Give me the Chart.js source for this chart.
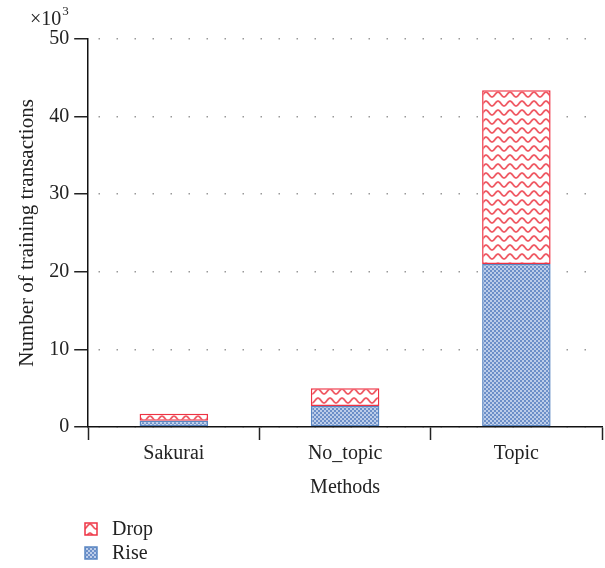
<!DOCTYPE html>
<html>
<head>
<meta charset="utf-8">
<script src="https://cdn.jsdelivr.net/npm/chart.js@4/dist/chart.umd.min.js"></script>
<style>
  html, body { margin: 0; padding: 0; background: #fff; }
  #wrap { width: 605px; height: 568px; }
</style>
</head>
<body>
<div id="wrap"><canvas id="c" width="605" height="568"></canvas></div>
<script>
// Training transactions per method, in thousands
const methods = ['Sakurai', 'No_topic', 'Topic'];
const riseValues = [0.8, 2.7, 21.0];
const dropValues = [0.9, 2.3, 22.4];
const yTicks = [0, 10, 20, 30, 40, 50];

const FONT = '"Liberation Serif", "DejaVu Serif", serif';
const FS = 20;

// Red wavy hatch on white
function wavePattern() {
  const t = document.createElement('canvas');
  t.width = 12; t.height = 9;
  const g = t.getContext('2d');
  g.fillStyle = '#ffffff';
  g.fillRect(0, 0, 12, 9);
  g.strokeStyle = 'rgba(236,60,72,0.85)';
  g.lineWidth = 1.8;
  g.beginPath();
  for (let x = -1; x <= 13; x += 0.5) {
    const y = 4.5 + 2.4 * Math.cos((x / 12) * Math.PI * 2);
    if (x === -1) g.moveTo(x, y); else g.lineTo(x, y);
  }
  g.stroke();
  return g.createPattern(t, 'repeat');
}

// Fine blue checker hatch
function checkerPattern() {
  const t = document.createElement('canvas');
  t.width = 4; t.height = 4;
  const g = t.getContext('2d');
  g.fillStyle = '#bccde9';
  g.fillRect(0, 0, 4, 4);
  g.fillStyle = '#6c8fc8';
  g.fillRect(0, 0, 2, 2);
  g.fillRect(2, 2, 2, 2);
  return g.createPattern(t, 'repeat');
}

const dropFill = wavePattern();
const riseFill = checkerPattern();

const extras = {
  id: 'extras',
  afterDraw(chart) {
    const ctx = chart.ctx;
    ctx.save();
    // exponent marker above the value axis
    ctx.fillStyle = '#222';
    ctx.textBaseline = 'alphabetic';
    ctx.textAlign = 'left';
    ctx.font = FS + 'px ' + FONT;
    ctx.fillText('\u00d710', 30, 25);
    const w = ctx.measureText('\u00d710').width;
    ctx.font = '13px ' + FONT;
    ctx.fillText('3', 30 + w + 1, 15);

    // legend
    const items = [
      { label: 'Drop', fill: dropFill, border: '#ee3344' },
      { label: 'Rise', fill: riseFill, border: '#5a86c2' }
    ];
    items.forEach((it, i) => {
      const y = 529 + i * 24;
      ctx.fillStyle = it.fill;
      ctx.fillRect(85, y - 6, 12, 12);
      ctx.strokeStyle = it.border;
      ctx.lineWidth = 1.5;
      ctx.strokeRect(85, y - 6, 12, 12);
      ctx.fillStyle = '#222';
      ctx.font = FS + 'px ' + FONT;
      ctx.textBaseline = 'middle';
      ctx.fillText(it.label, 112, y + 1);
    });
    ctx.restore();
  }
};

new Chart(document.getElementById('c'), {
  type: 'bar',
  data: {
    labels: methods,
    datasets: [
      {
        label: 'Rise',
        data: riseValues,
        backgroundColor: riseFill,
        borderColor: '#5a86c2',
        borderWidth: 1.5,
        borderSkipped: false,
        barPercentage: 0.4,
        categoryPercentage: 1
      },
      {
        label: 'Drop',
        data: dropValues,
        backgroundColor: dropFill,
        borderColor: '#ee3344',
        borderWidth: 1.5,
        borderSkipped: false,
        barPercentage: 0.4,
        categoryPercentage: 1
      }
    ]
  },
  options: {
    responsive: false,
    animation: false,
    devicePixelRatio: 1,
    layout: { padding: { left: 11, top: 39, right: 3, bottom: 64 } },
    plugins: {
      legend: { display: false },
      tooltip: { enabled: false }
    },
    scales: {
      x: {
        stacked: true,
        offset: true,
        grid: {
          offset: true,
          drawOnChartArea: false,
          drawTicks: true,
          tickLength: 13,
          tickColor: '#222',
          tickWidth: 1.5
        },
        border: { color: '#111', width: 1.5 },
        ticks: { color: '#222', font: { family: FONT, size: FS }, padding: 2 },
        title: { display: true, text: 'Methods', color: '#222', font: { family: FONT, size: FS }, padding: { top: 8, bottom: 4 } }
      },
      y: {
        stacked: true,
        min: 0,
        max: 50,
        afterBuildTicks(scale) { scale.ticks = yTicks.map(v => ({ value: v })); },
        grid: {
          color: '#999',
          lineWidth: 1.5,
          drawTicks: true,
          tickLength: 14,
          tickColor: '#222',
          tickWidth: 1.5,
          tickBorderDash: []
        },
        border: { color: '#111', width: 1.5, dash: [1.5, 16.5], dashOffset: -10 },
        ticks: { color: '#222', font: { family: FONT, size: FS }, padding: 5 },
        title: { display: true, text: 'Number of training transactions', color: '#222', font: { family: FONT, size: 21 }, padding: { bottom: 4 } }
      }
    }
  },
  plugins: [extras]
});
</script>
</body>
</html>
